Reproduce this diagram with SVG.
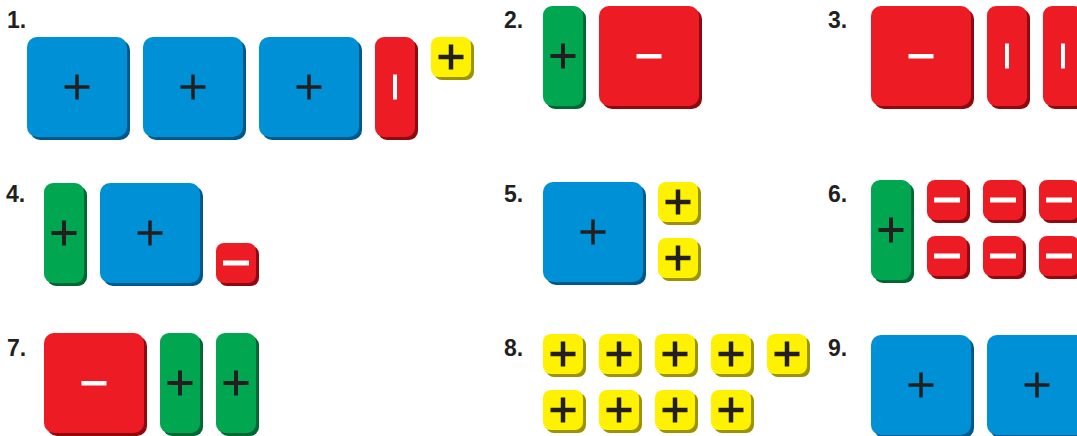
<svg xmlns="http://www.w3.org/2000/svg" xmlns:xlink="http://www.w3.org/1999/xlink" width="1077" height="436" viewBox="0 0 1077 436">
<style>
.lbl{font-family:"Liberation Sans",Arial,sans-serif;font-weight:bold;font-size:23px;fill:#231f20}
.bF{fill:#0090d5}.bS{fill:#00578a}
.rF{fill:#ed1c24}.rS{fill:#8f0a0f}
.gF{fill:#00a650}.gS{fill:#006633}
.yF{fill:#fff200}.yS{fill:#9c9300}
.pl{stroke:#231f20;stroke-width:3.5;fill:none}
.plY{stroke:#231f20;stroke-width:4.5;fill:none}
.wh{fill:#ffffff}
</style>
<defs>
<g id="bigBlue">
<rect x="3" y="3" width="100" height="100" rx="10" class="bS"/>
<rect x="0" y="0" width="100" height="100" rx="10" class="bF"/>
<path d="M37.5 50h25M50 37.5v25" class="pl"/>
</g>
<g id="bigRed">
<rect x="3" y="3" width="100" height="100" rx="10" class="rS"/>
<rect x="0" y="0" width="100" height="100" rx="10" class="rF"/>
<rect x="37.5" y="48" width="25" height="4.5" class="wh"/>
</g>
<g id="stripGreen">
<rect x="3" y="3" width="40" height="100" rx="9" class="gS"/>
<rect x="0" y="0" width="40" height="100" rx="9" class="gF"/>
<path d="M7.5 50h25M20 37.5v25" class="pl" style="stroke-width:4"/>
</g>
<g id="stripRed">
<rect x="3" y="3" width="40" height="100" rx="9" class="rS"/>
<rect x="0" y="0" width="40" height="100" rx="9" class="rF"/>
<rect x="18" y="37.5" width="4" height="25" class="wh"/>
</g>
<g id="smallYellow">
<rect x="3" y="3" width="40" height="40" rx="8" class="yS"/>
<rect x="0" y="0" width="40" height="40" rx="8" class="yF"/>
<path d="M7.5 20h25M20 7.5v25" class="plY"/>
</g>
<g id="smallRed">
<rect x="3" y="3" width="40" height="40" rx="8" class="rS"/>
<rect x="0" y="0" width="40" height="40" rx="8" class="rF"/>
<rect x="7" y="17.5" width="26" height="5" class="wh"/>
</g>
</defs>

<g id="item1">
<text x="7" y="28" class="lbl">1.</text>
<use xlink:href="#bigBlue" x="27" y="37"/>
<use xlink:href="#bigBlue" x="143" y="37"/>
<use xlink:href="#bigBlue" x="259" y="37"/>
<use xlink:href="#stripRed" x="375" y="37"/>
<use xlink:href="#smallYellow" x="431" y="37"/>
</g>
<g id="item2">
<text x="504" y="28" class="lbl">2.</text>
<use xlink:href="#stripGreen" x="543" y="6"/>
<use xlink:href="#bigRed" x="599" y="6"/>
</g>
<g id="item3">
<text x="828" y="28" class="lbl">3.</text>
<use xlink:href="#bigRed" x="871" y="6"/>
<use xlink:href="#stripRed" x="987" y="6"/>
<use xlink:href="#stripRed" x="1043" y="6"/>
</g>
<g id="item4">
<text x="6" y="202" class="lbl">4.</text>
<use xlink:href="#stripGreen" x="44" y="183"/>
<use xlink:href="#bigBlue" x="100" y="183"/>
<use xlink:href="#smallRed" x="216" y="243"/>
</g>
<g id="item5">
<text x="504" y="202" class="lbl">5.</text>
<use xlink:href="#bigBlue" x="543" y="182"/>
<use xlink:href="#smallYellow" x="658" y="182"/>
<use xlink:href="#smallYellow" x="658" y="238"/>
</g>
<g id="item6">
<text x="828" y="202" class="lbl">6.</text>
<use xlink:href="#stripGreen" x="871" y="180"/>
<use xlink:href="#smallRed" x="927" y="180"/>
<use xlink:href="#smallRed" x="983" y="180"/>
<use xlink:href="#smallRed" x="1039" y="180"/>
<use xlink:href="#smallRed" x="927" y="236"/>
<use xlink:href="#smallRed" x="983" y="236"/>
<use xlink:href="#smallRed" x="1039" y="236"/>
</g>
<g id="item7">
<text x="7" y="356" class="lbl">7.</text>
<use xlink:href="#bigRed" x="44" y="333"/>
<use xlink:href="#stripGreen" x="160" y="333"/>
<use xlink:href="#stripGreen" x="216" y="333"/>
</g>
<g id="item8">
<text x="504" y="356" class="lbl">8.</text>
<use xlink:href="#smallYellow" x="543" y="334"/>
<use xlink:href="#smallYellow" x="599" y="334"/>
<use xlink:href="#smallYellow" x="655" y="334"/>
<use xlink:href="#smallYellow" x="711" y="334"/>
<use xlink:href="#smallYellow" x="767" y="334"/>
<use xlink:href="#smallYellow" x="543" y="390"/>
<use xlink:href="#smallYellow" x="599" y="390"/>
<use xlink:href="#smallYellow" x="655" y="390"/>
<use xlink:href="#smallYellow" x="711" y="390"/>
</g>
<g id="item9">
<text x="828" y="356" class="lbl">9.</text>
<use xlink:href="#bigBlue" x="871" y="335"/>
<use xlink:href="#bigBlue" x="987" y="335"/>
</g>
<g id="connectors"/>
</svg>
